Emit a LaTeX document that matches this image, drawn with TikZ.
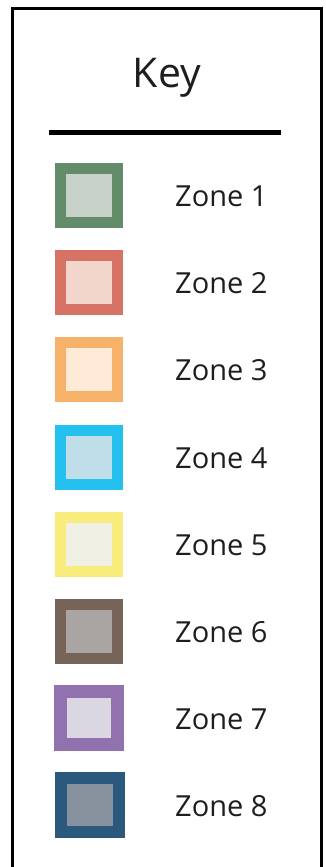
\documentclass[tikz,border=0pt]{standalone}
\usepackage{fontspec}
\setmainfont{Open Sans}
\usetikzlibrary{positioning}
\definecolor{bZoneA}{RGB}{99, 140, 106}
\definecolor{cZoneA}{RGB}{199, 209, 200}
\definecolor{bZoneB}{RGB}{214, 115, 100}
\definecolor{cZoneB}{RGB}{242, 214, 204}
\definecolor{bZoneC}{RGB}{247, 178, 106}
\definecolor{cZoneC}{RGB}{254, 234, 214}
\definecolor{bZoneD}{RGB}{36, 192, 238}
\definecolor{cZoneD}{RGB}{192, 221, 234}
\definecolor{bZoneE}{RGB}{248, 236, 124}
\definecolor{cZoneE}{RGB}{240, 240, 228}
\definecolor{bZoneF}{RGB}{118, 100, 88}
\definecolor{cZoneF}{RGB}{170, 165, 162}
\definecolor{bZoneG}{RGB}{146, 113, 175}
\definecolor{cZoneG}{RGB}{218, 214, 226}
\definecolor{bZoneH}{RGB}{43, 88, 125}
\definecolor{cZoneH}{RGB}{136, 146, 158}
\definecolor{tDark}{RGB}{30, 30, 30}
\begin{document}
\begin{tikzpicture}[
    x=1pt, y=-1pt,
    swatch/.style 2 args={
        draw=#1,
        fill=#2,
        line width=11pt,
        minimum width=57pt,
        minimum height=54pt,
        inner sep=0pt
    },
    label/.style={
        anchor=base west,
        font=\fontsize{29}{31}\selectfont,
        text=tDark,
        inner sep=0pt
    }
]
\useasboundingbox (0,0) rectangle (326,867);

% Frame
\draw[line width=3pt] (12.5,9) rectangle (321.5,880);

% Title
\node[font=\fontsize{41}{44}\selectfont, text=tDark, anchor=base, inner sep=0pt] (title) at (167,88) {Key};
\coordinate (ruleL) at (49,132);
\coordinate (ruleR) at (281,132);
\draw[line width=5pt] (ruleL) -- (ruleR);

% Swatches
\node[swatch={bZoneA}{cZoneA}] (z1) at (89,195.5) {};
\node[swatch={bZoneB}{cZoneB}] (z2) at (89,282.5) {};
\node[swatch={bZoneC}{cZoneC}] (z3) at (89,369.5) {};
\node[swatch={bZoneD}{cZoneD}] (z4) at (89,457) {};
\node[swatch={bZoneE}{cZoneE}] (z5) at (89,544) {};
\node[swatch={bZoneF}{cZoneF}] (z6) at (89,631) {};
\node[swatch={bZoneG}{cZoneG}, line width=13pt, minimum width=57pt, minimum height=53pt] (z7) at (89,718) {};
\node[swatch={bZoneH}{cZoneH}, line width=12pt, minimum width=58pt, minimum height=54pt] (z8) at (90,805) {};

% Labels
\node[label] (t1) at (175,206.5) {Zone 1};
\node[label] (t2) at (175,293.5) {Zone 2};
\node[label] (t3) at (175,380.5) {Zone 3};
\node[label] (t4) at (175,468) {Zone 4};
\node[label] (t5) at (175,555) {Zone 5};
\node[label] (t6) at (175,642) {Zone 6};
\node[label] (t7) at (175,729) {Zone 7};
\node[label] (t8) at (175,816) {Zone 8};

\end{tikzpicture}
\end{document}
